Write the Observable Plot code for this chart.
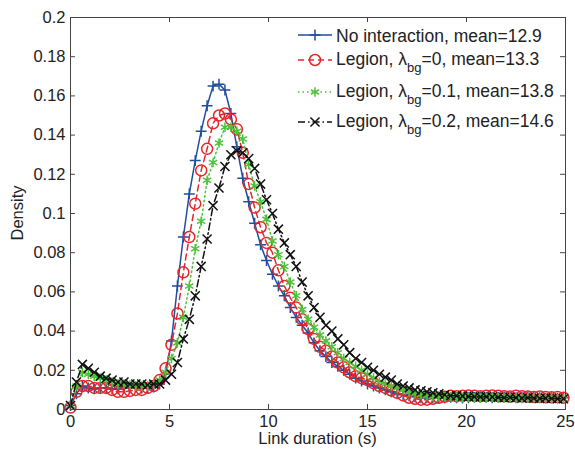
<!DOCTYPE html>
<html><head><meta charset="utf-8">
<script src="https://cdn.jsdelivr.net/npm/d3@7"></script>
<script src="https://cdn.jsdelivr.net/npm/@observablehq/plot@0.6"></script>
<style>body{margin:0;background:#fff;}</style>
</head><body><div id="chart"></div>
<script>
// Link duration (s) sample positions
const tVals = [
  0,0.3,0.6,0.9,1.2,1.5,1.8,2.1,2.4,2.7,
  3.0,3.3,3.6,3.9,4.2,4.5,4.8,5.1,5.4,5.7,
  6.0,6.3,6.6,6.9,7.2,7.5,7.8,8.1,8.4,8.7,
  9.0,9.3,9.6,9.9,10.2,10.5,10.8,11.1,11.4,11.7,
  12.0,12.3,12.6,12.9,13.2,13.5,13.8,14.1,14.4,14.7,
  15.0,15.3,15.6,15.9,16.2,16.5,16.8,17.1,17.4,17.7,
  18.0,18.3,18.6,18.9,19.2,19.5,19.8,20.1,20.4,20.7,
  21.0,21.3,21.6,21.9,22.2,22.5,22.8,23.1,23.4,23.7,
  24.0,24.3,24.6,24.9
];
const noInteraction = [
  0.002,0.008,0.012,0.011,0.0105,0.011,0.011,0.0105,0.0105,0.011,
  0.011,0.0115,0.011,0.011,0.0115,0.013,0.018,0.035,0.063,0.088,
  0.110,0.127,0.142,0.155,0.165,0.166,0.163,0.151,0.134,0.118,
  0.106,0.095,0.084,0.076,0.069,0.063,0.058,0.052,0.047,0.043,
  0.039,0.034,0.030,0.027,0.024,0.022,0.020,0.018,0.016,0.0145,
  0.013,0.012,0.011,0.010,0.009,0.008,0.0075,0.007,0.0065,0.006,
  0.006,0.006,0.0058,0.006,0.0062,0.006,0.0058,0.006,0.0062,0.0064,
  0.0062,0.006,0.0062,0.0064,0.0062,0.006,0.0062,0.0064,0.0062,0.006,
  0.0058,0.006,0.0058,0.006
];
const legion0 = [
  0.001,0.009,0.012,0.012,0.011,0.011,0.011,0.010,0.009,0.009,
  0.0095,0.010,0.010,0.011,0.012,0.015,0.021,0.033,0.049,0.070,
  0.088,0.105,0.122,0.133,0.146,0.150,0.151,0.148,0.143,0.131,
  0.115,0.103,0.093,0.085,0.080,0.071,0.063,0.057,0.052,0.046,
  0.041,0.036,0.032,0.030,0.027,0.024,0.0215,0.019,0.017,0.016,
  0.015,0.0135,0.012,0.011,0.0097,0.0085,0.0072,0.006,0.0055,0.005,
  0.005,0.0055,0.006,0.0065,0.007,0.0068,0.007,0.0072,0.007,0.0068,
  0.007,0.0072,0.007,0.0068,0.0066,0.007,0.0068,0.0066,0.0064,0.0066,
  0.0064,0.0062,0.0064,0.006
];
const legion01 = [
  0.002,0.012,0.019,0.018,0.017,0.016,0.015,0.014,0.013,0.013,
  0.0125,0.012,0.012,0.012,0.013,0.015,0.019,0.026,0.034,0.047,
  0.063,0.082,0.096,0.117,0.126,0.136,0.144,0.144,0.142,0.138,
  0.125,0.114,0.106,0.097,0.086,0.079,0.073,0.065,0.058,0.051,
  0.046,0.042,0.038,0.035,0.032,0.029,0.026,0.024,0.022,0.020,
  0.018,0.016,0.014,0.013,0.012,0.011,0.010,0.009,0.008,0.0075,
  0.007,0.0068,0.0066,0.0065,0.0064,0.0062,0.006,0.0062,0.006,0.0058,
  0.006,0.0062,0.006,0.0058,0.006,0.0058,0.0056,0.0058,0.006,0.0058,
  0.0056,0.0058,0.0056,0.0055
];
const legion02 = [
  0.002,0.014,0.023,0.021,0.019,0.017,0.016,0.015,0.014,0.014,
  0.013,0.013,0.013,0.0125,0.013,0.013,0.015,0.018,0.024,0.036,
  0.046,0.058,0.073,0.087,0.104,0.113,0.124,0.130,0.132,0.131,
  0.128,0.123,0.115,0.107,0.100,0.092,0.085,0.079,0.073,0.065,
  0.058,0.052,0.047,0.043,0.040,0.036,0.033,0.029,0.026,0.024,
  0.0215,0.020,0.018,0.0165,0.015,0.013,0.012,0.011,0.010,0.0095,
  0.009,0.0085,0.008,0.0075,0.007,0.007,0.0068,0.0066,0.0065,0.0064,
  0.0065,0.0064,0.0062,0.006,0.0062,0.006,0.0058,0.006,0.0058,0.0056,
  0.0058,0.0056,0.0055,0.0055
];
const xTicks = [0,5,10,15,20,25];
const yTicks = [0,0.02,0.04,0.06,0.08,0.1,0.12,0.14,0.16,0.18,0.2];
const legendParts = [
  ["No interaction, mean=12.9", null, null],
  ["Legion, \u03bb", "bg", "=0, mean=13.3"],
  ["Legion, \u03bb", "bg", "=0.1, mean=13.8"],
  ["Legion, \u03bb", "bg", "=0.2, mean=14.6"]
];

const series = [
  {values: noInteraction, color: "#1f4e9e", dash: null, symbol: "plus", sym: d3.symbolPlus, r: 3.6},
  {values: legion0, color: "#e5262b", dash: "6,4", symbol: "circle", sym: d3.symbolCircle, r: 5.5},
  {values: legion01, color: "#4cc23a", dash: "1.5,3", symbol: "asterisk", sym: d3.symbolAsterisk, r: 4.5},
  {values: legion02, color: "#111111", dash: "7,3,1.5,3", symbol: "times", sym: d3.symbolTimes, r: 4.2}
];

const marks = [];
series.forEach((s, i) => {
  const rows = tVals.map((t, j) => ({t, d: s.values[j]}));
  marks.push(Plot.line(rows, {x: "t", y: "d", stroke: s.color, strokeWidth: 1.5, strokeDasharray: s.dash}));
  marks.push(Plot.dot(rows, {x: "t", y: "d", symbol: s.symbol, r: s.r, stroke: s.color, strokeWidth: 1.5, fill: s.symbol === "circle" ? "none" : null}));
});

const chart = Plot.plot({
  width: 575, height: 449,
  marginLeft: 70, marginRight: 10, marginTop: 17, marginBottom: 40,
  x: {domain: [0, 25]},
  y: {domain: [0, 0.2]},
  style: {fontFamily: "'Liberation Sans', Arial, sans-serif", fontSize: "16.5px", color: "#222", background: "#fff", overflow: "visible"},
  marks: [
    Plot.axisX({ticks: xTicks, tickSize: 0, tickPadding: 6, label: null, fontSize: 16.5}),
    Plot.axisY({ticks: yTicks, tickSize: 0, tickPadding: 5, label: null, fontSize: 16.5, tickFormat: d3.format("~g")}),
    Plot.ruleX(xTicks, {y1: 0, y2: 0.0026, stroke: "#444"}),
    Plot.ruleX(xTicks, {y1: 0.2, y2: 0.1974, stroke: "#444"}),
    Plot.ruleY(yTicks, {x1: 0, x2: 0.25, stroke: "#444"}),
    Plot.ruleY(yTicks, {x1: 24.75, x2: 25, stroke: "#444"}),
    ...marks,
    Plot.frame({stroke: "#444", strokeWidth: 1})
  ]
});
document.getElementById("chart").appendChild(chart);

const svg = d3.select(chart);
svg.append("text").attr("transform", "translate(23,213) rotate(-90)")
  .attr("text-anchor", "middle").attr("font-size", 16.5).attr("fill", "#222").text("Density");
svg.append("text").attr("x", 317.5).attr("y", 444)
  .attr("text-anchor", "middle").attr("font-size", 16.5).attr("fill", "#222").text("Link duration (s)");

const lg = svg.append("g").attr("font-size", 17.5).attr("fill", "#222").attr("text-anchor", "start");
const rowY = [35, 60, 92, 122];
const baseY = [41.5, 64.5, 96.5, 126.5];
series.forEach((s, i) => {
  lg.append("line").attr("x1", 298).attr("x2", 332).attr("y1", rowY[i]).attr("y2", rowY[i])
    .attr("stroke", s.color).attr("stroke-width", 1.5).attr("stroke-dasharray", s.dash);
  lg.append("path").attr("d", d3.symbol(s.sym, Math.PI * s.r * s.r)())
    .attr("transform", `translate(315,${rowY[i]})`).attr("fill", "none")
    .attr("stroke", s.color).attr("stroke-width", 1.5);
  const p = legendParts[i];
  const tx = lg.append("text").attr("x", 336).attr("y", baseY[i]).attr("text-anchor", "start");
  tx.append("tspan").text(p[0]);
  if (p[1]) {
    tx.append("tspan").attr("dy", 7).attr("font-size", 13).text(p[1]);
    tx.append("tspan").attr("dy", -7).text(p[2]);
  }
});
</script>
</body></html>
